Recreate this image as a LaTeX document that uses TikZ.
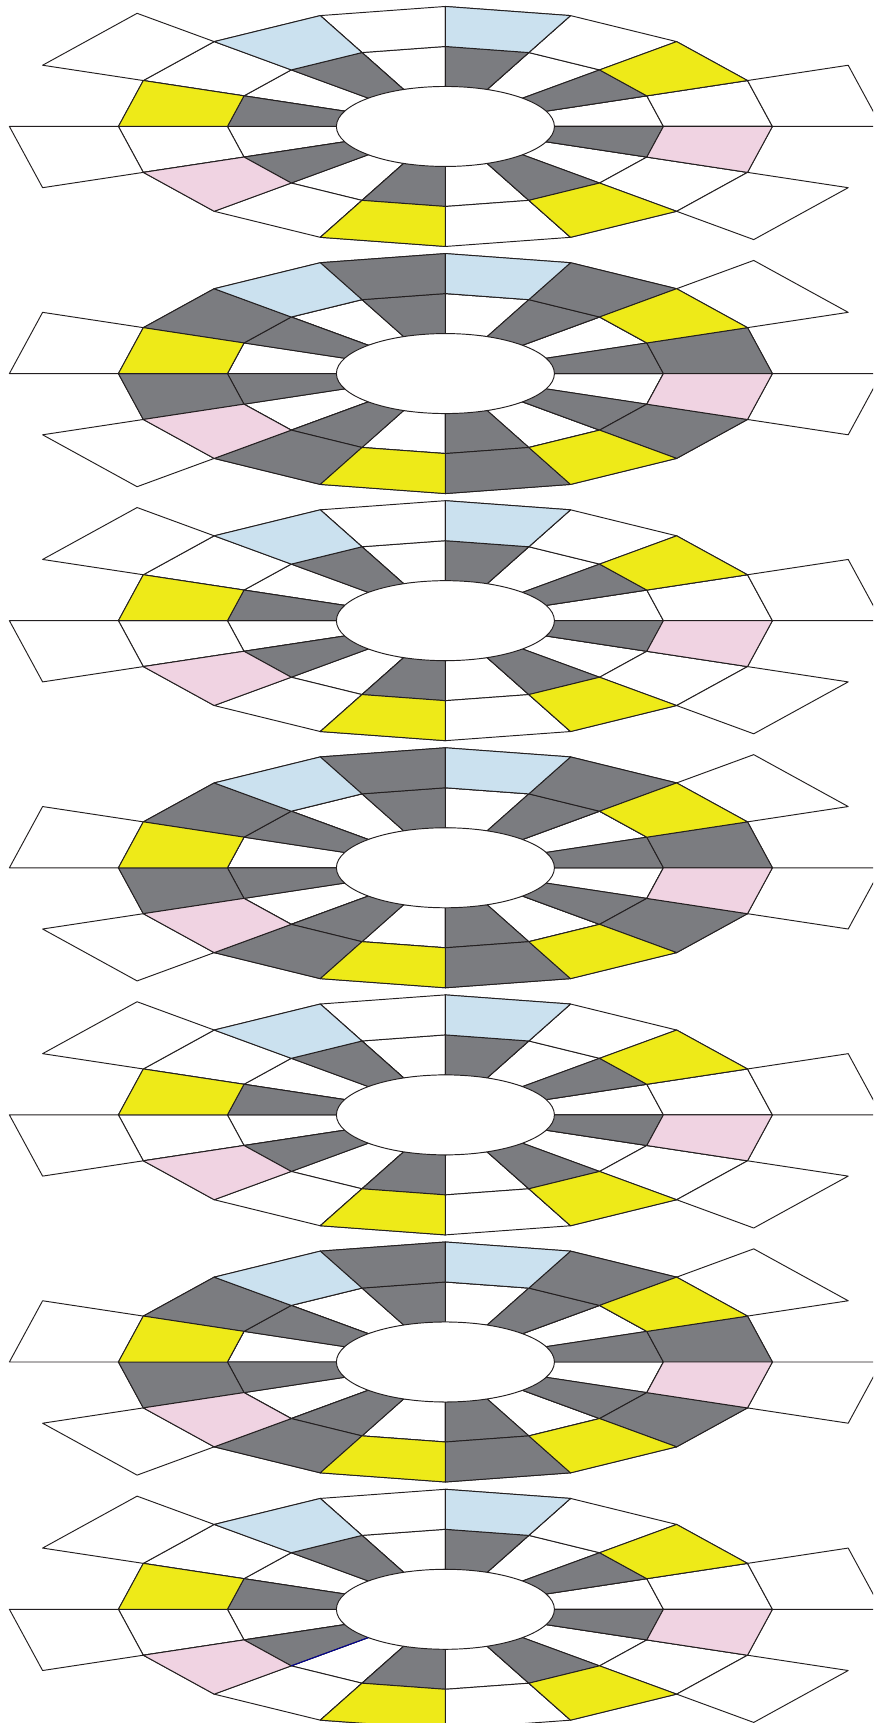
\documentclass[tikz,border=0pt]{standalone}
\definecolor{inkline}{HTML}{231F20}
\definecolor{cellgray}{HTML}{7B7C80}
\definecolor{cellyellow}{HTML}{EEEA18}
\definecolor{cellblue}{HTML}{CBE1EF}
\definecolor{cellpink}{HTML}{F0D3E2}
\tikzset{
  cellline/.style={draw=inkline,line width=0.95bp,line join=round},
  hub/.style={fill=white,draw=inkline,line width=0.95bp}
}
% #1 fill colour, #2 inner radius index, #3 sector index
\newcommand{\wedgecell}[3]{%
  \pgfmathsetmacro{\aa}{#3*22.5}%
  \pgfmathsetmacro{\ab}{(#3+1)*22.5}%
  \pgfmathsetmacro{\ra}{#2}%
  \pgfmathsetmacro{\rb}{#2+1}%
  \path[cellline,fill=#1] (\aa:\ra*109bp and \ra*40bp) -- (\aa:\rb*109bp and \rb*40bp)
    -- (\ab:\rb*109bp and \rb*40bp) -- (\ab:\ra*109bp and \ra*40bp) -- cycle;%
}
\newcommand{\oddlayer}[1]{%
  \begin{scope}[shift={(445.4bp,#1bp)}]
    \foreach \s in {0,...,15} {\wedgecell{white}{1}{\s}\wedgecell{white}{2}{\s}}
    \foreach \s in {0,6,8,14} {\wedgecell{white}{3}{\s}}
    \foreach \s in {1,3,...,15} {\wedgecell{cellgray}{1}{\s}}
    \colouredcells
    \path[hub] (0,0) circle[x radius=109bp,y radius=40bp];
  \end{scope}%
}
\newcommand{\evenlayer}[1]{%
  \begin{scope}[shift={(445.4bp,#1bp)}]
    \foreach \s in {0,...,15} {\wedgecell{white}{1}{\s}\wedgecell{white}{2}{\s}}
    \foreach \s in {1,7,9,15} {\wedgecell{white}{3}{\s}}
    \foreach \s in {0,2,...,14} {\wedgecell{cellgray}{1}{\s}\wedgecell{cellgray}{2}{\s}}
    \colouredcells
    \path[hub] (0,0) circle[x radius=109bp,y radius=40bp];
  \end{scope}%
}
\newcommand{\colouredcells}{%
  \foreach \s in {3,5} {\wedgecell{cellblue}{2}{\s}}
  \foreach \s in {1,7,11,13} {\wedgecell{cellyellow}{2}{\s}}
  \foreach \s in {9,15} {\wedgecell{cellpink}{2}{\s}}
}
\begin{document}
\begin{tikzpicture}[x=1bp,y=1bp]
  \useasboundingbox (0,0) rectangle (873,1723);
  \clip (0,0) rectangle (873,1723);
  \fill[white] (0,0) rectangle (873,1723);
  \oddlayer{1596.5}
  \evenlayer{1349.4}
  \oddlayer{1102.3}
  \evenlayer{855.2}
  \oddlayer{608.1}
  \evenlayer{361}
  \oddlayer{113.7}
  \begin{scope}[shift={(445.4bp,113.7bp)}]
    \draw[draw=blue!60!black,line width=0.95bp] (225:109bp and 40bp) -- (225:218bp and 80bp);
  \end{scope}
\end{tikzpicture}
\end{document}
